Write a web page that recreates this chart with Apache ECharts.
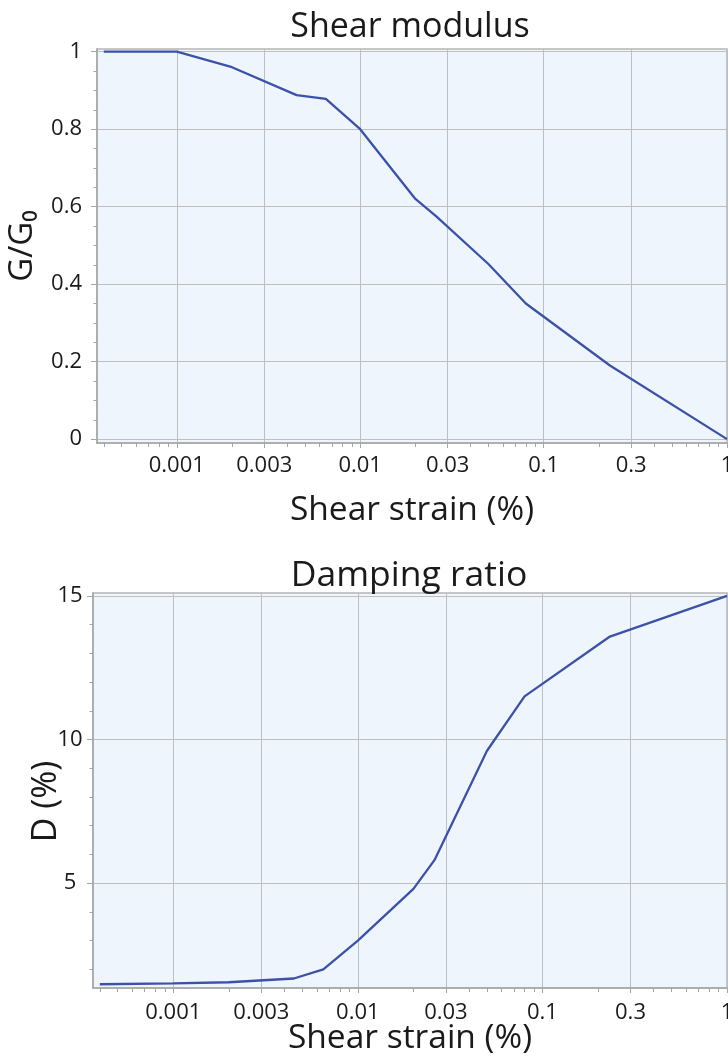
<!DOCTYPE html>
<html><head><meta charset="utf-8">
<script src="https://cdn.jsdelivr.net/npm/echarts@6/dist/echarts.min.js"></script>
<style>html,body{margin:0;padding:0;background:#fff}#c{width:728px;height:1061px}</style>
</head><body><div id="c"></div><script>
// ---- data ----
const strain = [0.0004, 0.001, 0.002, 0.0045, 0.0065, 0.01, 0.02, 0.026, 0.05, 0.08, 0.23, 1];
const shearModulus = [1.0, 1.0, 0.96, 0.888, 0.878, 0.80, 0.62, 0.575, 0.452, 0.35, 0.19, 0.0];
const dampingRatio = [1.48, 1.51, 1.55, 1.68, 2.0, 3.0, 4.8, 5.8, 9.6, 11.5, 13.57, 15.0];
const xTickLabels = ['0.001', '0.003', '0.01', '0.03', '0.1', '0.3', '1'];
const xMinorMultipliers = [2, 4, 5, 6, 7, 8, 9];
const xMinorDecades = [0.0001, 0.001, 0.01, 0.1];
const gTicks = [0, 0.2, 0.4, 0.6, 0.8, 1];
const gMinorTicks = [0.05, 0.1, 0.15, 0.25, 0.3, 0.35, 0.45, 0.5, 0.55, 0.65, 0.7, 0.75, 0.85, 0.9, 0.95];
const dTicks = [5, 10, 15];
const dMinorTicks = [2, 3, 4, 6, 7, 8, 9, 11, 12, 13, 14];

const FONT = 'Open Sans';
const X_MIN = -3.435, X_MAX = 0;
const lg = v => Math.log10(v);
const xMajor = xTickLabels.map(s => lg(parseFloat(s)));
const xMinor = [];
xMinorDecades.forEach(d => xMinorMultipliers.forEach(m => { const v = lg(d * m); if (v >= X_MIN && v <= X_MAX) xMinor.push(v); }));
const fmtX = v => { for (let i = 0; i < xMajor.length; i++) if (Math.abs(xMajor[i] - v) < 1e-6) return xTickLabels[i]; return ''; };

const AX = '#a6a6a6', GRIDC = '#bfbfbf', TXT = '#1a1a1a';

function xMain(grid, margin, nameGap) {
  return {
    type: 'value', gridIndex: grid, min: X_MIN, max: X_MAX, position: 'bottom',
    axisLine: { show: true, onZero: false, lineStyle: { color: AX, width: 1.5 } },
    axisTick: { show: true, customValues: xMajor, length: 5, lineStyle: { color: AX } },
    axisLabel: { customValues: xMajor, formatter: fmtX, margin: margin, color: TXT, fontFamily: FONT, fontSize: 22 },
    splitLine: { show: true, lineStyle: { color: GRIDC, width: 1 } },
    name: 'Shear strain (%)', nameLocation: 'middle', nameGap: nameGap, nameMoveOverlap: false,
    nameTextStyle: { color: TXT, fontFamily: FONT, fontSize: 33.5 }
  };
}
function xMinorAxis(grid) {
  return {
    type: 'value', gridIndex: grid, min: X_MIN, max: X_MAX, position: 'bottom',
    axisLine: { show: false, onZero: false },
    axisTick: { show: true, customValues: xMinor, length: 4, lineStyle: { color: AX } },
    axisLabel: { show: false }, splitLine: { show: false }
  };
}
function yMain(grid, min, max, ticks, name, nameGap, margin, align, nameSize, namePad) {
  return {
    type: 'value', gridIndex: grid, min: min, max: max, position: 'left',
    axisLine: { show: true, onZero: false, lineStyle: { color: AX, width: 1.5 } },
    axisTick: { show: true, customValues: ticks, length: 6, lineStyle: { color: AX } },
    axisLabel: { customValues: ticks, margin: margin, align: align, color: TXT, fontFamily: FONT, fontSize: 22 },
    splitLine: { show: true, lineStyle: { color: GRIDC, width: 1 } },
    name: name, nameLocation: 'middle', nameGap: nameGap, nameRotate: 90, nameMoveOverlap: false,
    nameTextStyle: { color: TXT, fontFamily: FONT, fontSize: nameSize, padding: namePad }
  };
}
function yMinorAxis(grid, min, max, ticks) {
  return {
    type: 'value', gridIndex: grid, min: min, max: max, position: 'left',
    axisLine: { show: false, onZero: false },
    axisTick: { show: true, customValues: ticks, length: 3.5, lineStyle: { color: AX } },
    axisLabel: { show: false }, splitLine: { show: false }
  };
}

const chart = echarts.init(document.getElementById('c'), null, { renderer: 'canvas' });
chart.setOption({
  animation: false,
  backgroundColor: '#ffffff',
  grid: [
    { left: 97, top: 49, right: 1, height: 394, show: true, backgroundColor: '#eef5fd', borderColor: '#b5b5b5', borderWidth: 1.5, outerBoundsMode: 'none', containLabel: false },
    { left: 93, top: 593, right: 1, height: 395, show: true, backgroundColor: '#eef5fd', borderColor: '#b5b5b5', borderWidth: 1.5, outerBoundsMode: 'none', containLabel: false }
  ],
  xAxis: [xMain(0, 12, 50), xMinorAxis(0), xMain(1, 14, 33), xMinorAxis(1)],
  yAxis: [
    yMain(0, -0.01, 1.007, gTicks, 'G/G\u2080', 58, 15, 'right', 33, 0),
    yMinorAxis(0, -0.01, 1.007, gMinorTicks),
    yMain(1, 1.35, 15.1, dTicks, 'D (%)', 30, 23, 'center', 34, [0, 22, 0, 0]),
    yMinorAxis(1, 1.35, 15.1, dMinorTicks)
  ],
  graphic: [
    { type: 'text', x: 410, y: 27, style: { text: 'Shear modulus', font: '34px "Open Sans"', fill: TXT, textAlign: 'center', textVerticalAlign: 'middle' } },
    { type: 'text', x: 409, y: 576, style: { text: 'Damping ratio', font: '35.5px "Open Sans"', fill: TXT, textAlign: 'center', textVerticalAlign: 'middle' } }
  ],
  series: [
    { type: 'line', xAxisIndex: 0, yAxisIndex: 0, showSymbol: false, symbol: 'none',
      data: strain.map((s, i) => [lg(s), shearModulus[i]]),
      lineStyle: { color: '#3c52a8', width: 2.3 }, z: 5 },
    { type: 'line', xAxisIndex: 2, yAxisIndex: 2, showSymbol: false, symbol: 'none',
      data: strain.map((s, i) => [lg(s), dampingRatio[i]]),
      lineStyle: { color: '#3c52a8', width: 2.3 }, z: 5 }
  ]
});
</script></body></html>
